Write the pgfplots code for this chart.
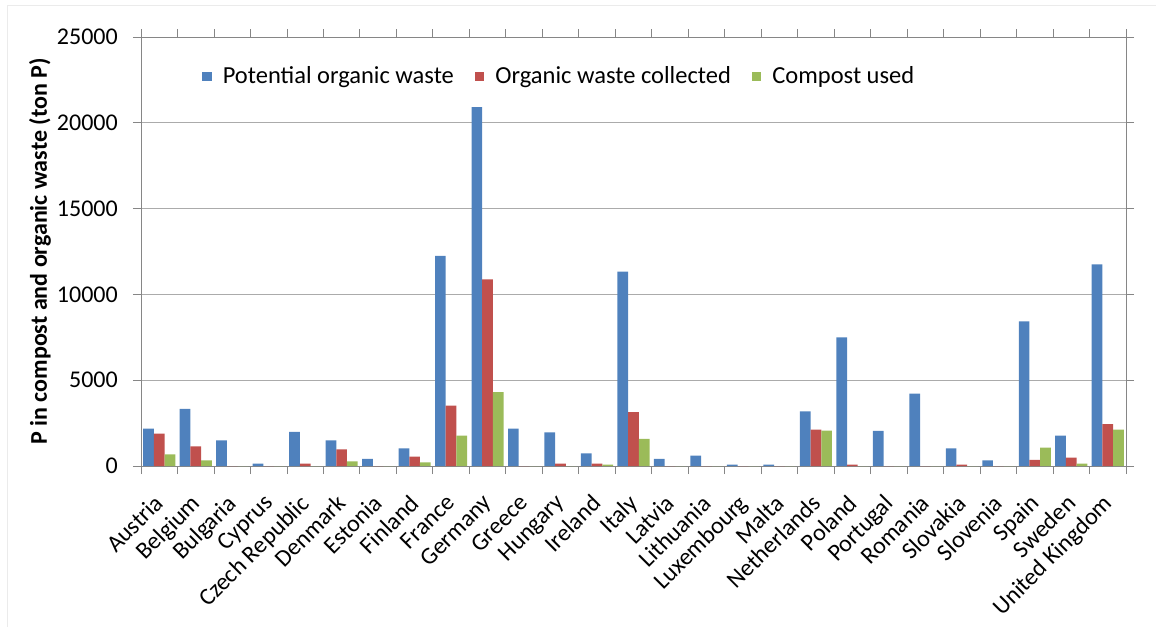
\documentclass[border=0pt]{standalone}
\usepackage{fontspec}
\setmainfont{Carlito}
\usepackage{pgfplots}
\usepackage{pgfplotstable}
\pgfplotsset{compat=1.18}

\definecolor{xlblue}{HTML}{4F81BD}
\definecolor{xlred}{HTML}{C0504D}
\definecolor{xlgreen}{HTML}{9BBB59}
\definecolor{gridgray}{HTML}{ABABAB}
\definecolor{axisgray}{HTML}{868686}

% potential, collected, compost used (ton P)
\pgfplotstableread{
x pot col comp
0 2180 1890 680
1 3330 1150 330
2 1500 0 0
3 140 0 0
4 1985 140 0
5 1500 975 275
6 410 0 0
7 1030 550 215
8 12240 3525 1775
9 20920 10880 4300
10 2180 0 0
11 1965 140 0
12 740 140 80
13 11330 3135 1575
14 410 0 0
15 605 0 0
16 80 0 0
17 80 0 0
18 3190 2125 2065
19 7495 80 0
20 2040 0 0
21 4225 0 0
22 1030 80 0
23 330 0 0
24 8430 350 1075
25 1775 490 140
26 11755 2435 2125
}\wastedata

\begin{document}
\begin{tikzpicture}
\useasboundingbox (-141pt,-161pt) rectangle (1015pt,466pt);
\draw[black!8] (-134pt,-161pt) -- (-134pt,461pt) -- (1015pt,461pt);
\begin{axis}[
  at={(0pt,0pt)}, anchor=south west,
  scale only axis, width=985pt, height=429pt,
  ybar=0pt, bar width=10.7pt,
  xmin=-0.5, xmax=26.5,
  ymin=0, ymax=25000,
  ytick={0,5000,...,25000},
  scaled y ticks=false,
  xtick={0,...,26},
  xticklabels={Austria,Belgium,Bulgaria,Cyprus,Czech Republic,Denmark,Estonia,Finland,France,Germany,Greece,Hungary,Ireland,Italy,Latvia,Lithuania,Luxembourg,Malta,Netherlands,Poland,Portugal,Romania,Slovakia,Slovenia,Spain,Sweden,United Kingdom},
  minor xtick={-0.5,0.5,...,26.5},
  major x tick style={draw=none},
  tick align=outside,
  major tick length=8pt, minor tick length=8pt,
  tick style={axisgray, line width=0.8pt},
  ymajorgrids, grid style={gridgray, line width=0.9pt},
  axis line style={axisgray, line width=0.9pt},
  every axis plot/.append style={draw=none},
  font=\fontsize{24}{28}\selectfont,
  /pgf/number format/assume math mode=true,
  /pgf/number format/1000 sep={},
  yticklabel style={anchor=east, inner xsep=0pt, xshift=-15pt},
  xticklabel style={inner sep=0pt, yshift=-19pt, xshift=-6pt, rotate=45, anchor=north east},
  ylabel={\bfseries P in compost and organic waste (ton P)},
  ylabel style={at={(rel axis cs:0,0.5)}, anchor=center, yshift=101pt},
  legend columns=3,
  legend style={draw=none, fill=none, at={(0.062,0.909)}, anchor=west,
    font=\fontsize{24.5}{28}\selectfont, inner sep=0pt,
    nodes={inner xsep=0pt},
    column sep=0pt},
  legend image code/.code={\fill[#1] (0pt,-5pt) rectangle (9.5pt,4.5pt); \path (20.5pt,0pt);},
]
\addplot[fill=xlblue] table[x=x, y=pot] {\wastedata};
\addplot[fill=xlred] table[x=x, y=col] {\wastedata};
\addplot[fill=xlgreen] table[x=x, y=comp] {\wastedata};
\legend{Potential organic waste\rule{21pt}{0pt}, Organic waste collected\rule{21pt}{0pt}, Compost used}
\end{axis}
\end{tikzpicture}
\end{document}
